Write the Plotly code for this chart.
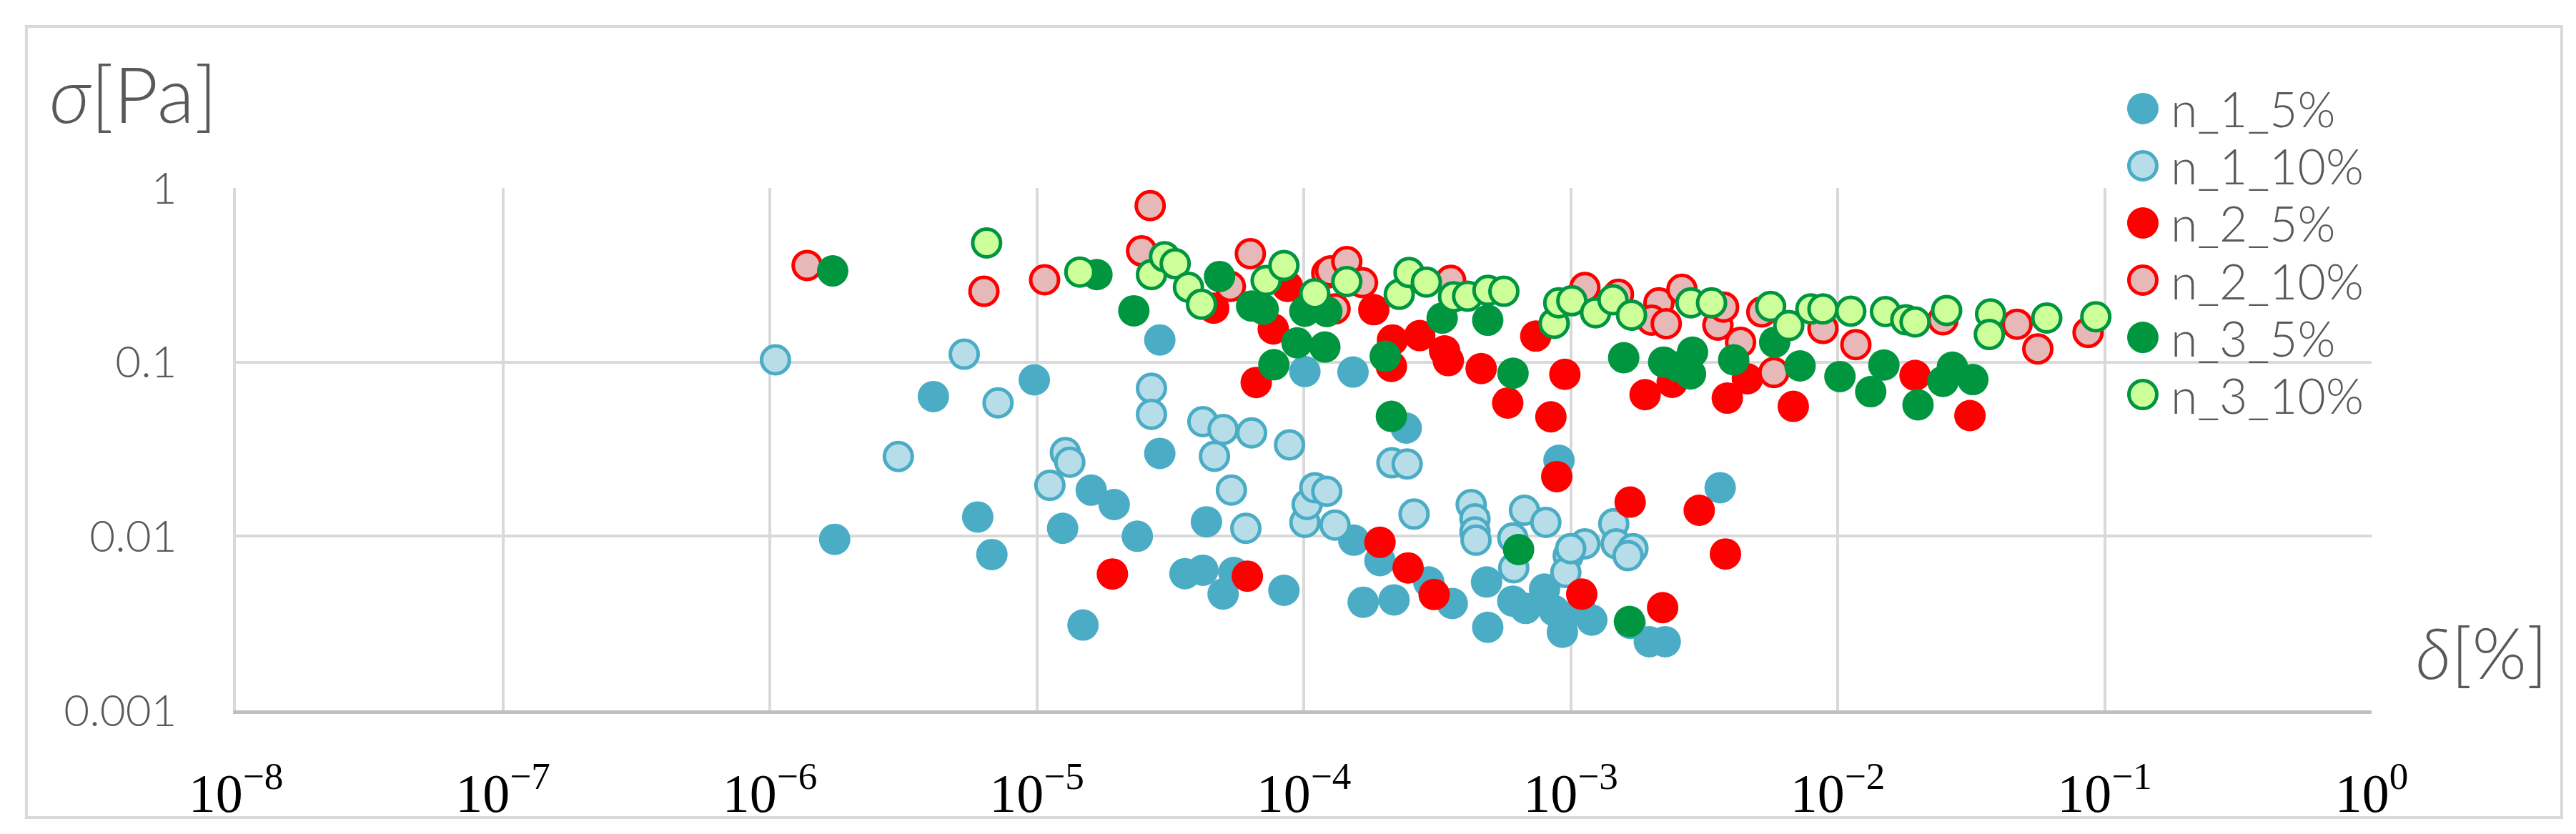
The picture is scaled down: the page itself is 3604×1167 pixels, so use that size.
import plotly.graph_objects as go

# strain delta [%] vs stress sigma [Pa]
n1_5_x = [1.75e-6, 4.1e-6, 6.01e-6, 6.79e-6, 9.79e-6, 1.25e-5, 1.49e-5, 1.60e-5, 1.95e-5, 2.38e-5,
          2.89e-5, 2.89e-5, 3.59e-5, 4.19e-5, 4.32e-5, 4.99e-5, 5.47e-5, 8.43e-5, 1.01e-4, 1.53e-4,
          1.54e-4, 1.67e-4, 1.93e-4, 2.18e-4, 2.42e-4, 2.94e-4, 3.60e-4, 4.84e-4, 4.89e-4, 6.07e-4,
          6.78e-4, 7.98e-4, 8.67e-4, 9.04e-4, 9.31e-4, 1.20e-3, 1.67e-3, 1.97e-3, 2.26e-3, 3.63e-3,
          1.09e-3]
n1_5_y = [9.6e-3, 6.34e-2, 1.29e-2, 7.85e-3, 7.91e-2, 1.11e-2, 3.09e-3, 1.84e-2, 1.52e-2, 1.0e-2,
          1.34e-1, 2.99e-2, 6.10e-3, 6.38e-3, 1.21e-2, 4.66e-3, 6.19e-3, 4.89e-3, 8.83e-2, 8.77e-2,
          9.49e-3, 4.18e-3, 7.24e-3, 4.31e-3, 4.18e-2, 5.46e-3, 4.11e-3, 5.46e-3, 3.00e-3, 4.24e-3,
          3.85e-3, 4.97e-3, 3.74e-3, 2.73e-2, 2.81e-3, 3.30e-3, 3.16e-3, 2.48e-3, 2.48e-3, 1.90e-2,
          3.74e-3]

n1_10_x = [1.05e-6, 3.03e-6, 5.35e-6, 7.16e-6, 1.12e-5, 1.28e-5, 1.33e-5, 2.69e-5, 2.69e-5, 4.19e-5,
           4.63e-5, 4.99e-5, 5.36e-5, 6.07e-5, 6.38e-5, 8.85e-5, 1.01e-4, 1.03e-4, 1.10e-4, 1.22e-4,
           1.31e-4, 2.14e-4, 2.44e-4, 2.59e-4, 4.24e-4, 4.38e-4, 4.38e-4, 4.42e-4, 6.07e-4, 6.12e-4,
           6.71e-4, 8.07e-4, 9.79e-4, 9.59e-4, 1.13e-3, 1.45e-3, 1.48e-3, 1.71e-3, 1.64e-3, 1.00e-3]
n1_10_y = [1.03e-1, 2.87e-2, 1.11e-1, 5.83e-2, 1.96e-2, 3.02e-2, 2.66e-2, 7.08e-2, 5.01e-2, 4.55e-2,
           2.88e-2, 4.10e-2, 1.84e-2, 1.11e-2, 3.92e-2, 3.35e-2, 1.20e-2, 1.52e-2, 1.90e-2, 1.81e-2,
           1.16e-2, 2.64e-2, 2.60e-2, 1.34e-2, 1.52e-2, 1.26e-2, 1.06e-2, 9.49e-3, 9.77e-3, 6.59e-3,
           1.41e-2, 1.20e-2, 7.73e-3, 6.19e-3, 9.04e-3, 1.18e-2, 9.04e-3, 8.49e-3, 7.73e-3, 8.49e-3]

n2_5_x = [1.92e-5, 4.60e-5, 6.15e-5, 6.64e-5, 7.69e-5, 8.69e-5, 1.83e-4, 1.93e-4, 2.13e-4, 2.15e-4,
          2.72e-4, 2.46e-4, 3.37e-4, 3.48e-4, 3.08e-4, 4.62e-4, 5.81e-4, 7.40e-4, 8.43e-4, 9.51e-4,
          8.87e-4, 1.10e-3, 1.67e-3, 1.90e-3, 2.21e-3, 2.40e-3, 3.03e-3, 3.86e-3, 3.80e-3, 4.59e-3,
          6.82e-3, 1.95e-2, 3.13e-2]
n2_5_y = [6.07e-3, 2.04e-1, 5.90e-3, 7.64e-2, 1.55e-1, 2.72e-1, 2.0e-1, 9.23e-3, 9.44e-2, 1.34e-1,
          1.42e-1, 6.58e-3, 1.16e-1, 1.02e-1, 4.63e-3, 9.18e-2, 5.82e-2, 1.41e-1, 4.85e-2, 8.51e-2,
          2.20e-2, 4.65e-3, 1.57e-2, 6.50e-2, 3.89e-3, 7.66e-2, 1.41e-2, 6.21e-2, 7.91e-3, 8.02e-2,
          5.57e-2, 8.39e-2, 4.93e-2]

n2_10_x = [1.38e-6, 6.34e-6, 1.07e-5, 2.66e-5, 2.47e-5, 6.31e-5, 5.31e-5, 1.22e-4, 1.26e-4, 1.45e-4,
           1.66e-4, 1.31e-4, 3.55e-4, 1.13e-3, 1.51e-3, 2.14e-3, 2.61e-3, 2.01e-3, 2.28e-3, 3.56e-3,
           3.74e-3, 4.33e-3, 5.20e-3, 5.77e-3, 8.81e-3, 1.17e-2, 2.48e-2, 4.70e-2, 5.62e-2, 8.67e-2]
n2_10_y = [3.59e-1, 2.55e-1, 2.97e-1, 7.91e-1, 4.35e-1, 4.19e-1, 2.72e-1, 3.24e-1, 3.34e-1, 3.78e-1,
           2.86e-1, 2.02e-1, 2.95e-1, 2.68e-1, 2.45e-1, 2.19e-1, 2.62e-1, 1.74e-1, 1.66e-1, 1.63e-1,
           2.07e-1, 1.30e-1, 1.94e-1, 8.71e-2, 1.56e-1, 1.26e-1, 1.75e-1, 1.65e-1, 1.19e-1, 1.48e-1]

n3_5_x = [1.72e-6, 1.68e-5, 2.31e-5, 4.84e-5, 6.38e-5, 7.05e-5, 7.73e-5, 9.44e-5, 1.01e-4, 1.20e-4,
          1.22e-4, 2.02e-4, 2.13e-4, 3.30e-4, 4.89e-4, 6.08e-4, 6.38e-4, 1.58e-3, 2.23e-3, 2.53e-3,
          2.86e-3, 2.81e-3, 4.08e-3, 5.81e-3, 7.23e-3, 1.02e-2, 1.33e-2, 1.49e-2, 2.00e-2, 2.48e-2,
          2.69e-2, 3.21e-2, 1.66e-3]
n3_5_y = [3.34e-1, 3.18e-1, 1.97e-1, 3.10e-1, 2.10e-1, 2.01e-1, 9.66e-2, 1.29e-1, 1.96e-1, 1.22e-1,
          1.95e-1, 1.08e-1, 4.88e-2, 1.79e-1, 1.74e-1, 8.63e-2, 8.38e-3, 1.06e-1, 1.0e-1, 9.40e-2,
          1.14e-1, 8.55e-2, 1.03e-1, 1.30e-1, 9.51e-2, 8.26e-2, 6.76e-2, 9.62e-2, 5.68e-2, 7.74e-2,
          9.35e-2, 7.94e-2, 3.24e-3]

n3_10_x = [6.49e-6, 1.45e-5, 2.69e-5, 3.01e-5, 3.30e-5, 3.70e-5, 4.14e-5, 7.23e-5, 8.43e-5, 1.10e-4,
           1.45e-4, 2.28e-4, 2.48e-4, 2.88e-4, 3.64e-4, 4.11e-4, 4.90e-4, 5.62e-4, 8.67e-4, 9.02e-4,
           1.01e-3, 1.24e-3, 1.44e-3, 1.69e-3, 2.82e-3, 3.37e-3, 5.61e-3, 6.56e-3, 7.94e-3, 8.81e-3,
           1.12e-2, 1.51e-2, 1.80e-2, 1.95e-2, 2.56e-2, 3.74e-2, 3.70e-2, 6.07e-2, 9.27e-2]
n3_10_y = [4.83e-1, 3.29e-1, 3.18e-1, 4.03e-1, 3.67e-1, 2.69e-1, 2.15e-1, 2.94e-1, 3.59e-1, 2.47e-1,
           2.90e-1, 2.45e-1, 3.27e-1, 2.88e-1, 2.37e-1, 2.39e-1, 2.58e-1, 2.55e-1, 1.67e-1, 2.19e-1,
           2.25e-1, 1.92e-1, 2.28e-1, 1.86e-1, 2.19e-1, 2.19e-1, 2.09e-1, 1.62e-1, 2.02e-1, 2.02e-1,
           1.96e-1, 1.95e-1, 1.75e-1, 1.70e-1, 1.98e-1, 1.89e-1, 1.44e-1, 1.79e-1, 1.82e-1]

series_names = ["n_1_5%", "n_1_10%", "n_2_5%", "n_2_10%", "n_3_5%", "n_3_10%"]
x_tickvals = [1e-8, 1e-7, 1e-6, 1e-5, 1e-4, 1e-3, 1e-2, 1e-1, 1]
x_ticktext = ["10<sup>\u22128</sup>", "10<sup>\u22127</sup>", "10<sup>\u22126</sup>", "10<sup>\u22125</sup>",
              "10<sup>\u22124</sup>", "10<sup>\u22123</sup>", "10<sup>\u22122</sup>", "10<sup>\u22121</sup>",
              "10<sup>0</sup>"]
y_tickvals = [0.001, 0.01, 0.1, 1]
y_ticktext = ["0.001", "0.01", "0.1", "1"]

# (fill, outline, outline width) per series
styles = [("#4bacc6", "#4bacc6", 0),
          ("#b7dee8", "#4bacc6", 5),
          ("#ff0000", "#ff0000", 0),
          ("#e6b9b8", "#ff0000", 5),
          ("#009640", "#009640", 0),
          ("#ccff99", "#009640", 5)]

data = [(n1_5_x, n1_5_y), (n1_10_x, n1_10_y), (n2_5_x, n2_5_y),
        (n2_10_x, n2_10_y), (n3_5_x, n3_5_y), (n3_10_x, n3_10_y)]

TXT = "#595959"
GRID = "#d9d9d9"

fig = go.Figure()
for name, (xs, ys), (fill, line, lw) in zip(series_names, data, styles):
    size = 44 if lw == 0 else 39
    fig.add_trace(go.Scatter(x=xs, y=ys, mode="markers", name=name,
                             marker=dict(size=size, color=fill,
                                         line=dict(color=line, width=lw))))

# plot area in pixels: left 322, right 3310, top 255, bottom 986
fig.update_layout(
    width=3604, height=1167,
    margin=dict(l=322, r=294, t=255, b=181),
    paper_bgcolor="white", plot_bgcolor="white",
    showlegend=False,
    xaxis=dict(type="log", range=[-8, 0], tickvals=x_tickvals, ticktext=x_ticktext,
               showgrid=True, gridcolor=GRID, gridwidth=4,
               showline=True, linecolor="#bfbfbf", linewidth=5,
               ticks="", ticklabelstandoff=46,
               tickfont=dict(family="Liberation Serif", size=76, color="black"),
               zeroline=False),
    yaxis=dict(type="log", range=[-3, 0], tickvals=y_tickvals, ticktext=y_ticktext,
               showgrid=True, gridcolor=GRID, gridwidth=4,
               showline=True, linecolor=GRID, linewidth=4,
               ticks="", ticklabelstandoff=66,
               tickfont=dict(family="Lato", size=62, color=TXT, weight=300),
               zeroline=False),
)

# outer chart frame
fig.add_shape(type="rect", xref="paper", yref="paper",
              x0=-0.0981, x1=1.0890, y0=-0.2052, y1=1.3092,
              line=dict(color=GRID, width=4), fillcolor="rgba(0,0,0,0)", layer="below")

# axis titles
fig.add_annotation(text="<i>\u03c3</i>[Pa]", xref="paper", yref="paper", x=-0.088, y=1.182,
                   xanchor="left", yanchor="middle", showarrow=False,
                   font=dict(family="Lato", size=108, color=TXT, weight=300))
fig.add_annotation(text="<i>\u03b4</i>[%]", xref="paper", yref="paper", x=1.0515, y=0.112,
                   xanchor="center", yanchor="middle", showarrow=False,
                   font=dict(family="Lato", size=98, color=TXT, weight=300))

# legend with big symbols like the original
leg_x = 0.8929
leg_y0 = 1.152
leg_step = 0.1095
for i, (name, (fill, line, lw)) in enumerate(zip(series_names, styles)):
    yy = leg_y0 - i * leg_step
    r = 22 if lw == 0 else 19.5
    fig.add_shape(type="circle", xref="paper", yref="paper",
                  xsizemode="pixel", ysizemode="pixel",
                  xanchor=leg_x, yanchor=yy, x0=-r, x1=r, y0=-r, y1=r,
                  fillcolor=fill, line=dict(color=line, width=lw if lw else 0))
    fig.add_annotation(text=name, xref="paper", yref="paper", x=leg_x + 0.0125, y=yy,
                       xanchor="left", yanchor="middle", showarrow=False,
                       font=dict(family="Lato", size=68, color=TXT, weight=300))

fig.write_html("out.html")
